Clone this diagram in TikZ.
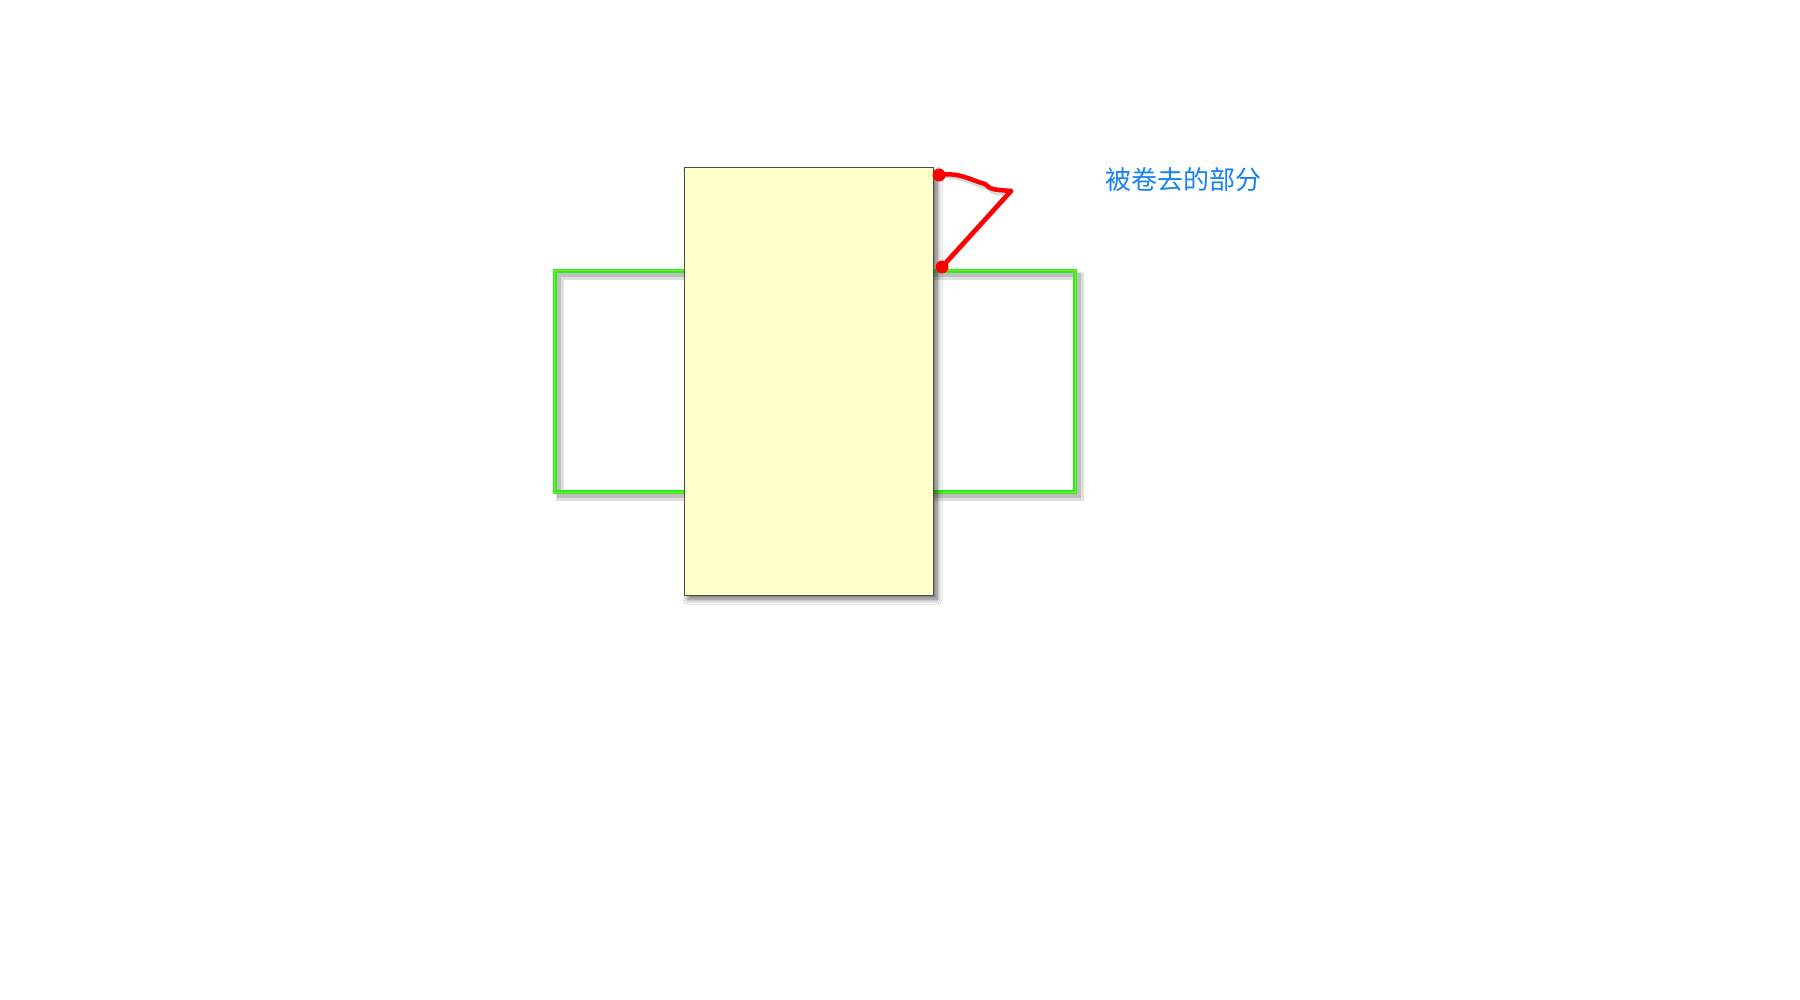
\documentclass[tikz,border=0pt]{standalone}
\usepackage{fontspec}
\newfontfamily\cjk{Noto Sans CJK SC}
\usepackage[copies]{contour}
\contourlength{1.6pt}
\contournumber{24}
\usetikzlibrary{shadows,shadows.blur}
\definecolor{paper}{RGB}{255,255,200}
\definecolor{lblue}{RGB}{20,130,240}
\definecolor{gline}{RGB}{30,245,30}
\tikzset{
  greenbox/.style={draw=gline,line width=1.7pt,double=yellow!60!gline,double distance=1pt},
  gshadow/.style={draw=black,line width=8pt,opacity=0.12},
  gshadowb/.style={draw=black,line width=4pt,opacity=0.15},
  paperbox/.style={draw=black!70,line width=1pt,fill=paper,
    blur shadow={shadow xshift=4pt,shadow yshift=-4pt,shadow blur steps=10,shadow blur radius=5pt,shadow opacity=60}},
  redline/.style={draw=red,line width=4.5pt,line cap=round,line join=round},
  redshadow/.style={draw=black,line width=6pt,line cap=round,line join=round,opacity=0.15},
  reddot/.style={circle,fill=red,inner sep=0pt,minimum size=13pt},
}
\begin{document}
\begin{tikzpicture}[x=1pt,y=-1pt]
\useasboundingbox (0,0) rectangle (1800,1000);
\fill[white] (0,0) rectangle (1800,1000);
\node[minimum width=520pt,minimum height=221pt,inner sep=0pt] (g) at (815,381.5) {};
\draw[gshadow] ([shift={(5,5)}]g.north west) rectangle ([shift={(5,5)}]g.south east);
\draw[gshadowb] ([shift={(4,4)}]g.north west) rectangle ([shift={(4,4)}]g.south east);
\draw[greenbox] (g.north west) rectangle (g.south east);
\node[paperbox,minimum width=249pt,minimum height=427pt,inner sep=0pt] (p) at (808.5,381.5) {};
\node[reddot] (d1) at (939,175) {};
\node[reddot] (d2) at (942,267) {};
\coordinate (k) at (1011,191);
\draw[redshadow,shift={(3,3)}] (d1.center) .. controls (960,172) and (970,180) .. (985,184) -- (990,188) .. controls (995,190) and (1000,190) .. (k) -- (d2.center);
\draw[redline] (d1.center) .. controls (960,172) and (970,180) .. (985,184) -- (990,188) .. controls (995,190) and (1000,190) .. (k) -- (d2.center);
\node (t) [text=lblue,font=\cjk\fontsize{26pt}{30pt}\selectfont] at (1183,180) {\contour{white}{被卷去的部分}};
\end{tikzpicture}
\end{document}
